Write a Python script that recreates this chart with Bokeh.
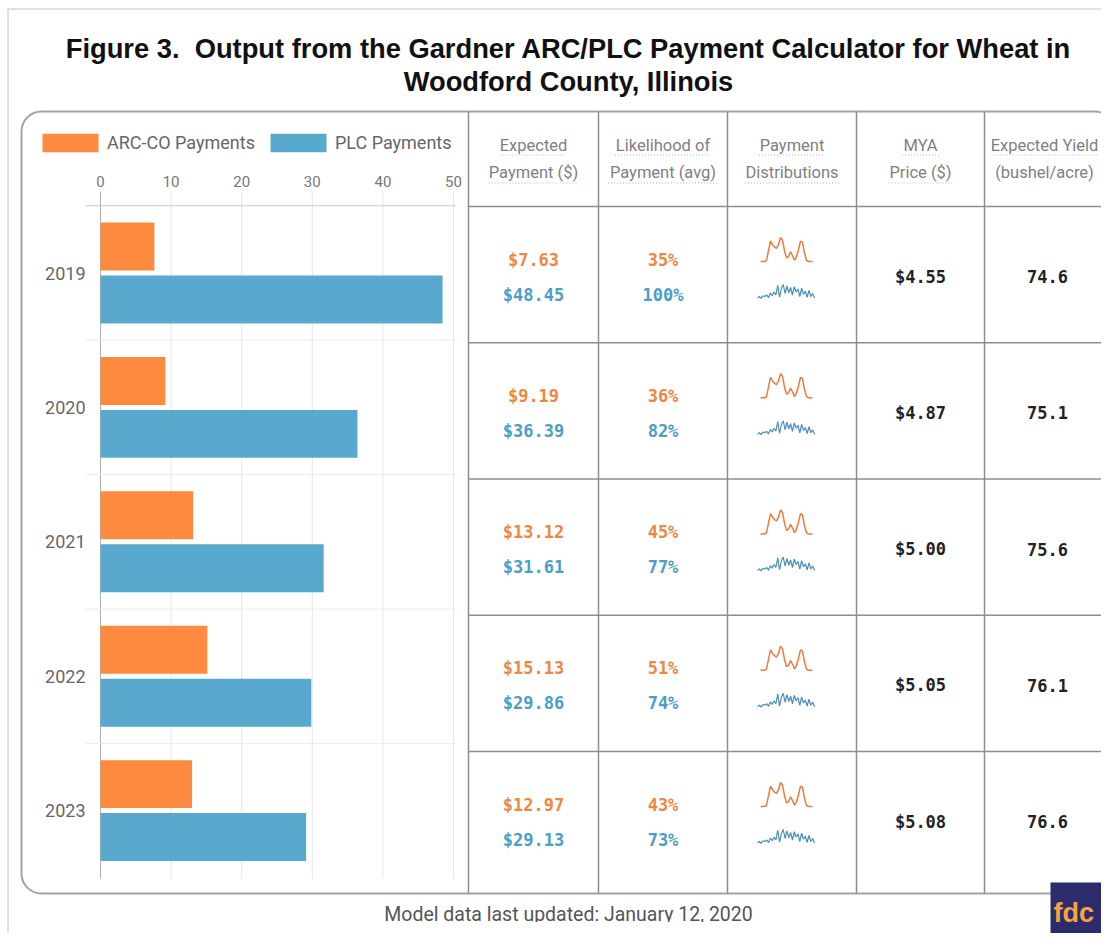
import numpy as np
from bokeh.plotting import figure
from bokeh.models import Range1d, ColumnDataSource, Legend, LegendItem
from bokeh.transform import dodge
from bokeh.core.properties import value
from bokeh.embed import file_html
from bokeh.resources import INLINE

# ---------------- data ----------------
title_lines = ["Figure 3.  Output from the Gardner ARC/PLC Payment Calculator for Wheat in",
               "Woodford County, Illinois"]
years = [2019, 2020, 2021, 2022, 2023]
series_names = ["ARC-CO Payments", "PLC Payments"]
arc_payment = [7.63, 9.19, 13.12, 15.13, 12.97]
plc_payment = [48.45, 36.39, 31.61, 29.86, 29.13]
arc_likelihood = [35, 36, 45, 51, 43]
plc_likelihood = [100, 82, 77, 74, 73]
mya_price = [4.55, 4.87, 5.00, 5.05, 5.08]
expected_yield = [74.6, 75.1, 75.6, 76.1, 76.6]
x_ticks = [0, 10, 20, 30, 40, 50]
header_top = ["Expected", "Likelihood of", "Payment", "MYA", "Expected Yield"]
header_bottom = ["Payment ($)", "Payment (avg)", "Distributions", "Price ($)", "(bushel/acre)"]
# payment distribution sparklines (relative heights)
arc_distribution = [0.0, 0.0, 0.0, 0.05, 0.45, 0.85, 0.7, 0.6, 0.55, 0.7, 1.0, 0.9, 0.45,
                    0.15, 0.2, 0.4, 0.25, 0.05, 0.2, 0.5, 0.85, 0.8, 0.35, 0.05, 0.0, 0.0, 0.0]
plc_distribution = [0.1, 0.2, 0.08, 0.25, 0.2, 0.3, 0.12, 0.42, 0.25, 0.5, 0.3, 0.95, 0.15,
                    0.75, 1.0, 0.4, 0.9, 0.45, 0.8, 0.3, 0.85, 0.5, 0.7, 0.2, 0.75, 0.35, 0.55,
                    0.15, 0.6, 0.2, 0.4, 0.1]
footnote = "Model data last updated: January 12, 2020"
logo_text = "fdc"

# ---------------- styles / layout ----------------
ORANGE_BAR, BLUE_BAR = "#FD8A3E", "#59A9CF"
ORANGE_TXT, BLUE_TXT = "#EF8642", "#4B9EC6"
ORANGE_LN, BLUE_LN = "#EE7B3A", "#4A8FB8"
W, H = 1101, 933
ZERO_PX, PX_PER_DOLLAR = 100.0, 7.06
Y0_PX, BAND_PX = 272.5, 134.4
TABLE_TOP, ROW_H = 206.0, 136.25
col_edges = [468, 598, 727, 856, 984]
col_centers = [533, 662.5, 791.5, 920, 1047]
hdr_centers = [533, 662.5, 791.5, 920, 1044]

p = figure(width=W, height=H, x_range=Range1d(0, W), y_range=Range1d(H, 0),
           x_axis_type=None, y_axis_type=None, output_backend="svg", toolbar_location=None,
           min_border=0, outline_line_color=None,
           background_fill_color="white", border_fill_color="white")
p.extra_x_ranges = {"val": Range1d((0 - ZERO_PX) / PX_PER_DOLLAR, (W - ZERO_PX) / PX_PER_DOLLAR)}
p.extra_y_ranges = {"yr": Range1d(years[0] + (H - Y0_PX) / BAND_PX, years[0] + (0 - Y0_PX) / BAND_PX)}

# frames
p.quad(left=7.5, right=1116.5, top=8.5, bottom=960, fill_color=None, line_color="#c4c4c4", line_width=1)
p.quad(left=21, right=1114, top=111, bottom=893, border_radius=20, fill_color="white",
       line_color="#a3a3a3", line_width=2)

# title
p.text(x=[568, 568], y=[48, 81], text=[t.replace("  ", "\u00a0 ") for t in title_lines],
       text_align="center", text_baseline="middle",
       text_font=value("Liberation Sans"), text_font_style="bold", text_font_size="27.3px",
       text_color="#111111")

# bar chart grid
p.segment(x0=x_ticks, x1=x_ticks, y0=[191] * len(x_ticks), y1=[878] * len(x_ticks), x_range_name="val",
          line_color=["#b0b0b0"] + ["#e6e6e6"] * (len(x_ticks) - 1), line_width=1)
bounds = [years[0] - 0.5] + [y + 0.5 for y in years[:-1]]
p.segment(x0=[85] * len(bounds), x1=[456] * len(bounds), y0=bounds, y1=bounds, y_range_name="yr",
          line_color=["#c8c8c8"] + ["#ececec"] * (len(bounds) - 1), line_width=1)

src = ColumnDataSource(dict(year=years, arc=arc_payment, plc=plc_payment))
r_arc = p.hbar(y=dodge("year", -0.197), left=0, right="arc", height=0.357, source=src,
               x_range_name="val", y_range_name="yr", fill_color=ORANGE_BAR, line_color=None)
r_plc = p.hbar(y=dodge("year", 0.197), left=0, right="plc", height=0.357, source=src,
               x_range_name="val", y_range_name="yr", fill_color=BLUE_BAR, line_color=None)

p.text(x=x_ticks, y=[181] * len(x_ticks), text=[str(t) for t in x_ticks], x_range_name="val",
       text_align="center", text_baseline="middle", text_font=value("Roboto"),
       text_font_size="15px", text_color="#777777")
p.text(x=[85] * len(years), y=years, text=[str(y) for y in years], y_range_name="yr",
       text_align="right", text_baseline="middle", text_font=value("Roboto"),
       text_font_size="18px", text_color="#666666")

legend = Legend(items=[LegendItem(label=series_names[0], renderers=[r_arc]),
                       LegendItem(label=series_names[1], renderers=[r_plc])],
                orientation="horizontal", location=(35, 778.75), glyph_width=70, glyph_height=23,
                label_standoff=2, spacing=8, padding=0, margin=0, border_line_color=None,
                background_fill_alpha=0, label_text_font="Roboto", label_text_font_size="18px",
                label_text_color="#666666")
p.add_layout(legend)

# table lines
p.segment(x0=col_edges, x1=col_edges, y0=[111] * len(col_edges), y1=[893] * len(col_edges),
          line_color="#8e8e8e", line_width=1.5)
tops = [TABLE_TOP + i * ROW_H for i in range(len(years))]
p.segment(x0=[468] * len(tops), x1=[1113] * len(tops), y0=tops, y1=tops, line_color="#8e8e8e", line_width=1.5)

# table header
hdr = dict(text_align="center", text_baseline="middle", text_font=value("Roboto"),
           text_font_size="16.5px", text_color="#7f7f7f")
p.text(x=hdr_centers, y=[145] * 5, text=header_top, **hdr)
p.text(x=hdr_centers, y=[172] * 5, text=header_bottom, **hdr)
ul_top = [66, 96, 66, 37, 106]
ul_bot = [90, 110, 94, 64, 0]
ux0, ux1, uy = [], [], []
for c, a, b in zip(hdr_centers, ul_top, ul_bot):
    ux0.append(c - a / 2); ux1.append(c + a / 2); uy.append(154.5)
    if b:
        ux0.append(c - b / 2); ux1.append(c + b / 2); uy.append(182.5)
p.segment(x0=ux0, x1=ux1, y0=uy, y1=uy, line_color="#b5b5b5", line_width=1, line_dash="1 2")

# table values
val = dict(text_align="center", text_baseline="middle", text_font=value("DejaVu Sans Mono"),
           text_font_style="bold", text_font_size="17px")
p.text(x=[col_centers[0]] * 5, y=[t + 53 for t in tops], text=[f"${v:.2f}" for v in arc_payment],
       text_color=ORANGE_TXT, **val)
p.text(x=[col_centers[0]] * 5, y=[t + 88 for t in tops], text=[f"${v:.2f}" for v in plc_payment],
       text_color=BLUE_TXT, **val)
p.text(x=[col_centers[1]] * 5, y=[t + 53 for t in tops], text=[f"{v}%" for v in arc_likelihood],
       text_color=ORANGE_TXT, **val)
p.text(x=[col_centers[1]] * 5, y=[t + 88 for t in tops], text=[f"{v}%" for v in plc_likelihood],
       text_color=BLUE_TXT, **val)
p.text(x=[col_centers[3]] * 5, y=[t + 70 for t in tops], text=[f"${v:.2f}" for v in mya_price],
       text_color="#222222", **val)
p.text(x=[col_centers[4]] * 5, y=[t + 70 for t in tops], text=[f"{v:.1f}" for v in expected_yield],
       text_color="#222222", **val)

# sparklines
ad = np.array(arc_distribution); pd_ = np.array(plc_distribution)
axs = np.linspace(760, 812, len(ad)); pxs = np.linspace(757, 814, len(pd_))
p.multi_line(xs=[axs] * len(tops), ys=[t + 55 - 24 * ad for t in tops], line_color=ORANGE_LN, line_width=1.5)
p.multi_line(xs=[pxs] * len(tops), ys=[t + 93 - 15 * pd_ for t in tops], line_color=BLUE_LN, line_width=1.2)

# footnote (bottom clipped as in the reference) and logo
p.text(x=[568], y=[914], text=[footnote], text_align="center", text_baseline="middle",
       text_font=value("Roboto"), text_font_size="19.5px", text_color="#555555")
p.quad(left=300, right=850, top=921.5, bottom=945, fill_color="white", line_color=None)
p.quad(left=1050, right=1101, top=882, bottom=933, fill_color="#2C2C6C", line_color=None)
p.text(x=[1053], y=[912], text=[logo_text], text_align="left", text_baseline="middle",
       text_font=value("Liberation Sans"), text_font_style="bold", text_font_size="27px", text_color="#F4A340")

open("out.html", "w").write(file_html(p, INLINE))
